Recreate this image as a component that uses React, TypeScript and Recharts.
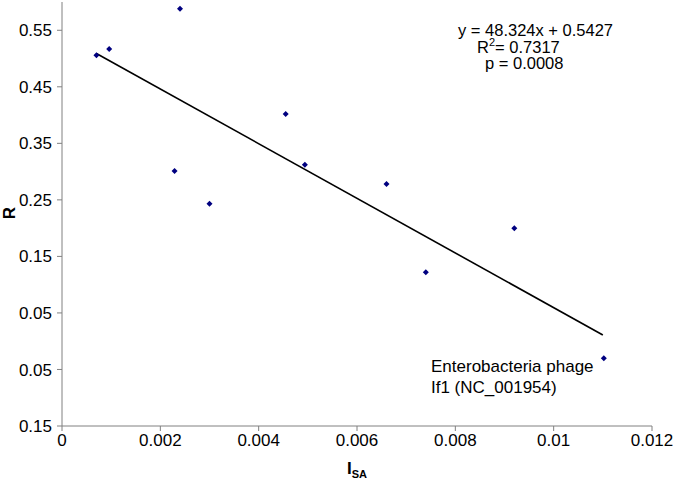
import React from "react";
import {
  ScatterChart,
  Scatter,
  XAxis,
  YAxis,
  Label,
} from "recharts";

// ISA vs R for each phage
const isaValues = [0.0007, 0.00096, 0.0024, 0.00229, 0.003, 0.00455, 0.00494, 0.0066, 0.0074, 0.0092, 0.01102];
const rValues = [0.506, 0.517, 0.588, 0.301, 0.243, 0.402, 0.312, 0.278, 0.122, 0.2, -0.03];

// regression line endpoints (y = -48.324x + 0.5427)
const trendX = [0.0007, 0.011];
const trendY = [0.509, 0.011];

const xTicks = [0, 0.002, 0.004, 0.006, 0.008, 0.01, 0.012];
const yTicks = [-0.15, -0.05, 0.05, 0.15, 0.25, 0.35, 0.45, 0.55];

const equationLines = ["y = 48.324x + 0.5427", "R", "p = 0.0008"];
const phageLines = ["Enterobacteria phage", "If1 (NC_001954)"];

const points = isaValues.map((x, i) => ({ x, y: rValues[i] }));
const trend = trendX.map((x, i) => ({ x, y: trendY[i] }));

const FONT = "'Liberation Sans', Arial, sans-serif";
const AXIS = "#808080";

const Diamond = (props: any) => {
  const { cx, cy } = props;
  const s = 3;
  return (
    <polygon
      points={`${cx},${cy - s} ${cx + s},${cy} ${cx},${cy + s} ${cx - s},${cy}`}
      fill="#000080"
    />
  );
};

export default function App() {
  return (
    <div style={{ position: "absolute", left: 0, top: 0, width: 677, height: 479, background: "#fff" }}>
      <ScatterChart
        width={677}
        height={479}
        margin={{ top: 2, right: 25, bottom: 0, left: 0 }}
        style={{ fontFamily: FONT }}
      >
        <XAxis
          type="number"
          dataKey="x"
          domain={[0, 0.012]}
          ticks={xTicks}
          tickFormatter={(v: number) => String(v)}
          height={53}
          tickSize={5}
          tickMargin={3}
          stroke={AXIS}
          tick={{ fill: "#000", fontSize: 17, fontFamily: FONT }}
          allowDataOverflow
        >
          <Label
            content={() => (
              <text x={357} y={474} textAnchor="middle" fontFamily={FONT} fontWeight="bold" fill="#000">
                <tspan fontSize={17}>I</tspan>
                <tspan fontSize={11} dy={4}>SA</tspan>
              </text>
            )}
          />
        </XAxis>
        <YAxis
          type="number"
          dataKey="y"
          domain={[-0.15, 0.6]}
          ticks={yTicks}
          tickFormatter={(v: number) => Math.abs(v).toFixed(2)}
          width={62}
          tickSize={5}
          tickMargin={5}
          stroke={AXIS}
          tick={{ fill: "#000", fontSize: 17, fontFamily: FONT }}
          allowDataOverflow
        >
          <Label
            content={() => (
              <text
                x={9}
                y={213}
                transform="rotate(-90 9 213)"
                textAnchor="middle"
                dominantBaseline="central"
                fontFamily={FONT}
                fontWeight="bold"
                fontSize={17}
                fill="#000"
              >
                R
              </text>
            )}
          />
        </YAxis>
        <Scatter
          data={trend}
          line={{ stroke: "#000", strokeWidth: 1.6 }}
          lineType="joint"
          shape={() => null}
          isAnimationActive={false}
        />
        <Scatter data={points} shape={<Diamond />} isAnimationActive={false} />
      </ScatterChart>
      <svg
        width={677}
        height={479}
        style={{ position: "absolute", left: 0, top: 0, pointerEvents: "none" }}
        fontFamily={FONT}
        fontSize={16.5}
      >
        <text x={458} y={30} dominantBaseline="central" fill="#000">{equationLines[0]}</text>
        <text x={477} y={47} dominantBaseline="central" fill="#000">
          {equationLines[1]}
          <tspan fontSize={11} dy={-5}>2</tspan>
          <tspan dy={5}>= 0.7317</tspan>
        </text>
        <text x={485} y={63} dominantBaseline="central" fill="#000">{equationLines[2]}</text>
        <text x={431} y={366} dominantBaseline="central" fill="#000" fontSize={17}>{phageLines[0]}</text>
        <text x={431} y={387} dominantBaseline="central" fill="#000" fontSize={17}>{phageLines[1]}</text>
      </svg>
    </div>
  );
}
